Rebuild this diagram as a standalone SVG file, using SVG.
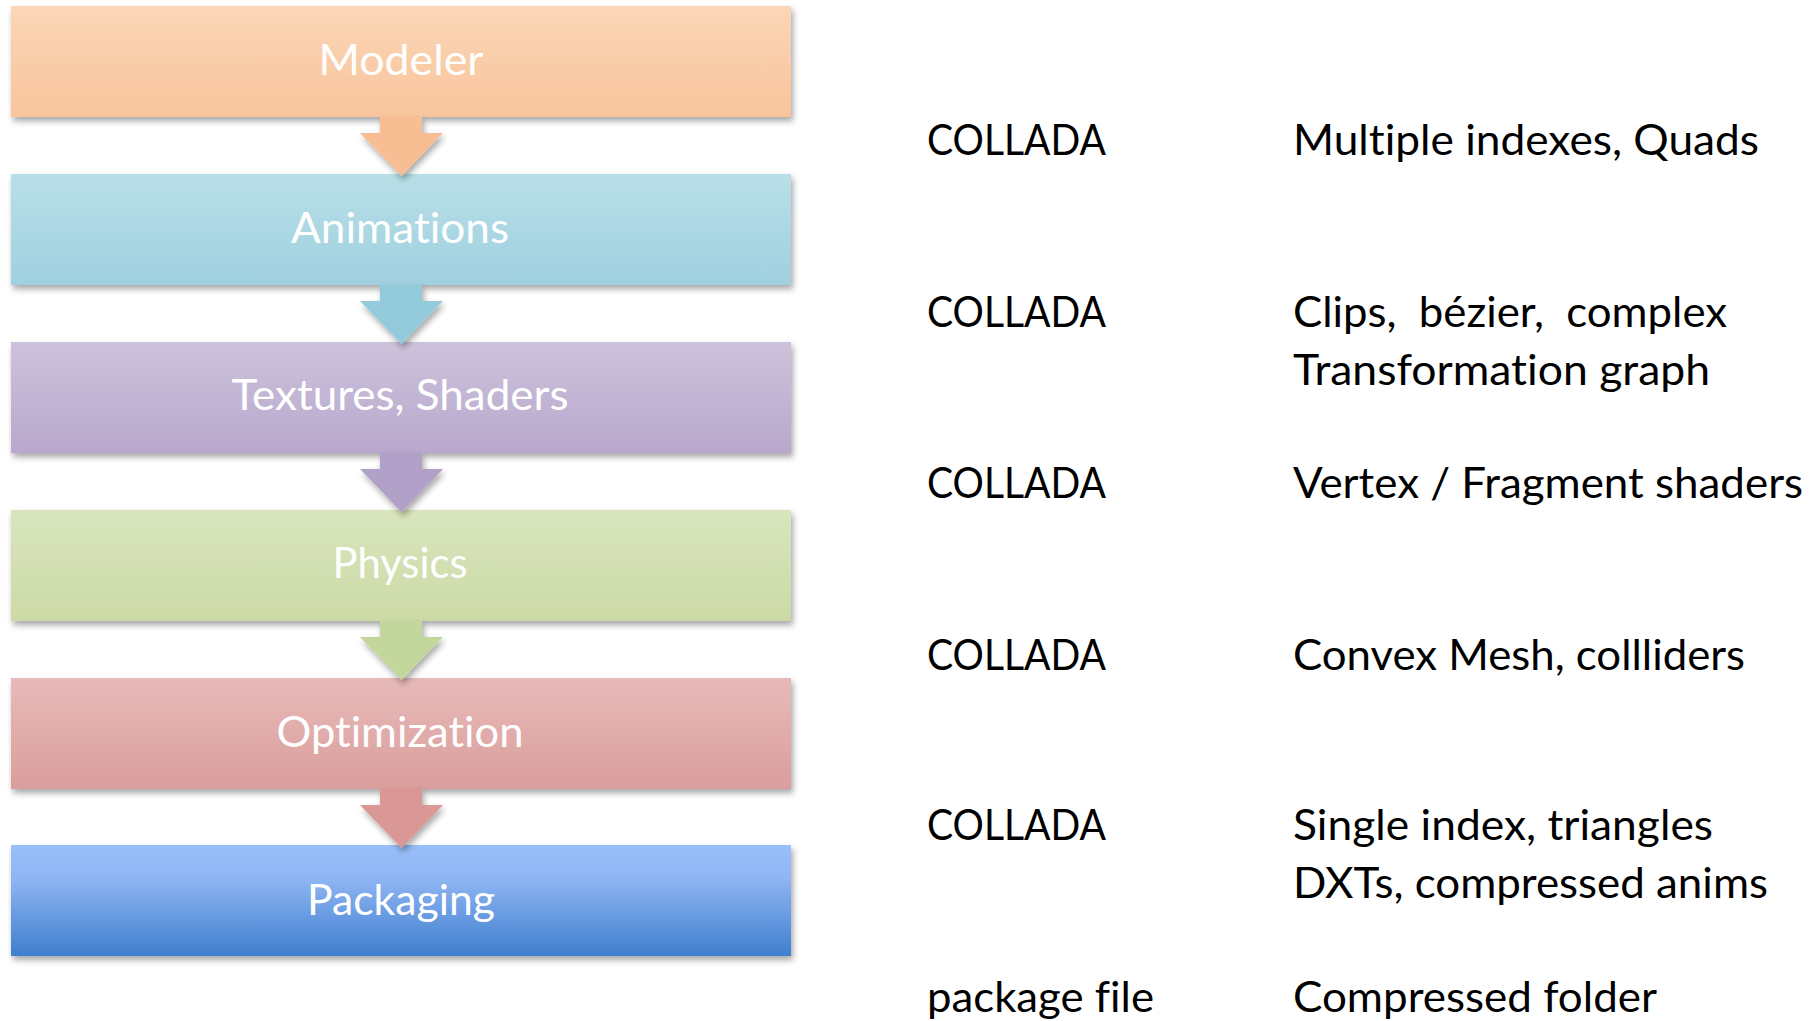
<svg xmlns="http://www.w3.org/2000/svg" width="1814" height="1021" viewBox="0 0 1814 1021">
<style>
text{font-variant-ligatures:none;font-feature-settings:"liga" 0,"dlig" 0}
.lbl{font-family:Lato,"Open Sans","Liberation Sans",sans-serif;font-size:42px;fill:#ffffff;text-anchor:middle}
.txt{font-family:Lato,"Open Sans","Liberation Sans",sans-serif;font-size:42px;fill:#000000}
</style>
<defs>
<filter id="sh" x="-5%" y="-20%" width="110%" height="150%">
<feDropShadow dx="2" dy="4" stdDeviation="3" flood-color="#000" flood-opacity="0.35"/>
</filter>
<linearGradient id="g1" x1="0" y1="0" x2="0" y2="1"><stop offset="0" stop-color="#FBD6B7"/><stop offset="1" stop-color="#F8C49C"/></linearGradient>
<linearGradient id="g2" x1="0" y1="0" x2="0" y2="1"><stop offset="0" stop-color="#B8DFE7"/><stop offset="1" stop-color="#A0D0E0"/></linearGradient>
<linearGradient id="g3" x1="0" y1="0" x2="0" y2="1"><stop offset="0" stop-color="#CDC2DB"/><stop offset="1" stop-color="#B8A8CD"/></linearGradient>
<linearGradient id="g4" x1="0" y1="0" x2="0" y2="1"><stop offset="0" stop-color="#D9E5BD"/><stop offset="1" stop-color="#CCDAA6"/></linearGradient>
<linearGradient id="g5" x1="0" y1="0" x2="0" y2="1"><stop offset="0" stop-color="#E7BAB9"/><stop offset="1" stop-color="#DA9E9C"/></linearGradient>
<linearGradient id="g6" x1="0" y1="0" x2="0" y2="1"><stop offset="0" stop-color="#99BFFB"/><stop offset="0.3" stop-color="#8FB5F3"/><stop offset="1" stop-color="#3F7FCE"/></linearGradient>
</defs>
<g id="n1"><rect x="11" y="6" width="780" height="111" fill="url(#g1)" filter="url(#sh)"/><text class="lbl" x="401" y="75" textLength="165" lengthAdjust="spacingAndGlyphs">Modeler</text></g>
<g id="n2"><rect x="11" y="174" width="780" height="111" fill="url(#g2)" filter="url(#sh)"/><text class="lbl" x="400" y="243" textLength="218" lengthAdjust="spacingAndGlyphs">Animations</text></g>
<g id="n3"><rect x="11" y="342" width="780" height="111" fill="url(#g3)" filter="url(#sh)"/><text class="lbl" x="400" y="410" textLength="337" lengthAdjust="spacingAndGlyphs">Textures, Shaders</text></g>
<g id="n4"><rect x="11" y="510" width="780" height="111" fill="url(#g4)" filter="url(#sh)"/><text class="lbl" x="400" y="578" textLength="135" lengthAdjust="spacingAndGlyphs">Physics</text></g>
<g id="n5"><rect x="11" y="678" width="780" height="111" fill="url(#g5)" filter="url(#sh)"/><text class="lbl" x="400" y="747" textLength="247" lengthAdjust="spacingAndGlyphs">Optimization</text></g>
<g id="n6"><rect x="11" y="845" width="780" height="111" fill="url(#g6)" filter="url(#sh)"/><text class="lbl" x="401" y="915" textLength="188" lengthAdjust="spacingAndGlyphs">Packaging</text></g>
<g id="connectors">
<path d="M380 117 H422 V133 H443 L401.5 176 L360 133 H380 Z" fill="#F7BE93" filter="url(#sh)"/>
<path d="M380 285 H422 V301 H443 L401.5 344 L360 301 H380 Z" fill="#93CBDC" filter="url(#sh)"/>
<path d="M380 453 H422 V469 H443 L401.5 512 L360 469 H380 Z" fill="#B1A0C7" filter="url(#sh)"/>
<path d="M380 621 H422 V637 H443 L401.5 680 L360 637 H380 Z" fill="#C3D69B" filter="url(#sh)"/>
<path d="M380 789 H422 V805 H443 L401.5 848 L360 805 H380 Z" fill="#D99795" filter="url(#sh)"/>
</g>
<g id="notes">
<text class="txt" x="927" y="155" textLength="179" lengthAdjust="spacingAndGlyphs">COLLADA</text>
<text class="txt" x="1293" y="155" textLength="466" lengthAdjust="spacingAndGlyphs">Multiple indexes, Quads</text>
<text class="txt" x="927" y="327" textLength="179" lengthAdjust="spacingAndGlyphs">COLLADA</text>
<text class="txt" x="1293" y="327" textLength="434" lengthAdjust="spacingAndGlyphs" xml:space="preserve">Clips,  bézier,  complex</text>
<text class="txt" x="1293" y="385" textLength="417" lengthAdjust="spacingAndGlyphs">Transformation graph</text>
<text class="txt" x="927" y="498" textLength="179" lengthAdjust="spacingAndGlyphs">COLLADA</text>
<text class="txt" x="1293" y="498" textLength="510" lengthAdjust="spacingAndGlyphs">Vertex / Fragment shaders</text>
<text class="txt" x="927" y="670" textLength="179" lengthAdjust="spacingAndGlyphs">COLLADA</text>
<text class="txt" x="1293" y="670" textLength="452" lengthAdjust="spacingAndGlyphs">Convex Mesh, collliders</text>
<text class="txt" x="927" y="840" textLength="179" lengthAdjust="spacingAndGlyphs">COLLADA</text>
<text class="txt" x="1293" y="840" textLength="420" lengthAdjust="spacingAndGlyphs">Single index, triangles</text>
<text class="txt" x="1293" y="898" textLength="475" lengthAdjust="spacingAndGlyphs">DXTs, compressed anims</text>
<text class="txt" x="927" y="1012" textLength="227" lengthAdjust="spacingAndGlyphs">package file</text>
<text class="txt" x="1293" y="1012" textLength="364" lengthAdjust="spacingAndGlyphs">Compressed folder</text>
</g>
</svg>
